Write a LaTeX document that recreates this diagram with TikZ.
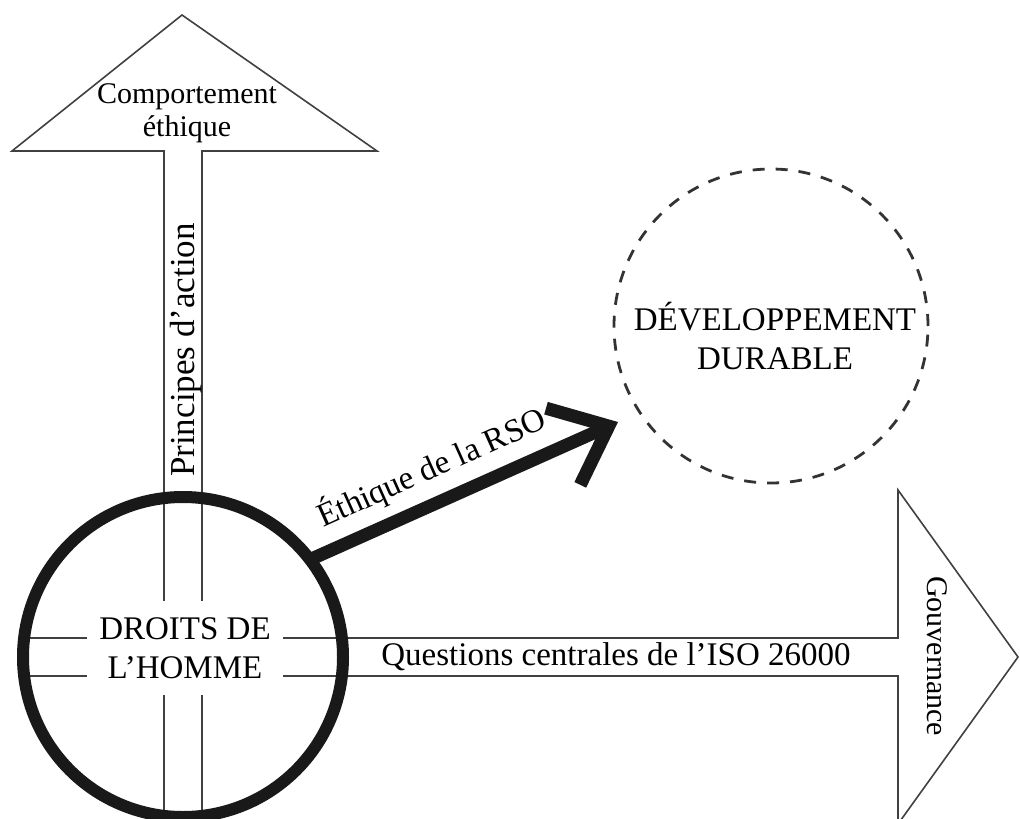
\documentclass[tikz,border=0pt]{standalone}
\usepackage{fontspec}
\setmainfont{Liberation Serif}
\usetikzlibrary{arrows.meta,positioning}
\tikzset
{
    thinline/.style  = {draw=black!75, line width=1.6pt, line join=miter},
    hrcircle/.style  = {circle, draw=black!90, line width=12pt, minimum size=320pt, inner sep=0pt},
    sdcircle/.style  = {circle, draw=black!80, line width=2.8pt, dash pattern=on 12pt off 11pt, minimum size=314pt, inner sep=0pt},
    bigtext/.style   = {align=center, font=\fontsize{33}{39}\selectfont, inner sep=0pt},
    headtext/.style  = {align=center, font=\fontsize{30}{33}\selectfont, inner sep=0pt},
    rsoarrow/.style  = {draw=black!90, line width=13pt, -{Straight Barb[length=50pt,width=84pt]}}
}
\begin{document}
\begin{tikzpicture}[x=1pt, y=-1pt]
    \useasboundingbox (0,0) rectangle (1020,819);
    \clip (0,0) rectangle (1020,819);
    % principles arrow (up)
    \draw[thinline] (164,816) -- (164,151) -- (12,151) -- (182,15) -- (377,151) -- (202,151) -- (202,816);
    % core subjects arrow (right)
    \draw[thinline] (24,638) -- (898,638) -- (898,490) -- (1018,657) -- (898,824) -- (898,676) -- (24,676);
    % labels on the two big arrows
    \node [headtext] (behaviour) at (187,113) {Comportement\\éthique};
    \node [bigtext, rotate=90, font=\fontsize{35}{39}\selectfont] (principles) at (186,350) {Principes d’action};
    \node [bigtext] (coresubjects) at (616,657) {Questions centrales de l’ISO 26000};
    \node [headtext, rotate=-90] (governance) at (937,656) {Gouvernance};
    % human rights
    \node [bigtext, fill=white, inner xsep=12pt, inner ysep=16pt] (hrlabel) at (185,648) {DROITS DE\\L’HOMME};
    \node [hrcircle] (hr) at (183,657) {};
    % sustainable development
    \node [sdcircle] (sd) at (771,326) {};
    \node [bigtext] (sdlabel) at (775,336) {DÉVELOPPEMENT\\DURABLE};
    \coordinate (rsotip) at (618,422);
    \draw [rsoarrow, shorten <=-8pt] (hr.37) -- node [bigtext, pos=0.43, above=10pt, sloped] (rsolabel) {Éthique de la RSO} (rsotip);
\end{tikzpicture}
\end{document}
